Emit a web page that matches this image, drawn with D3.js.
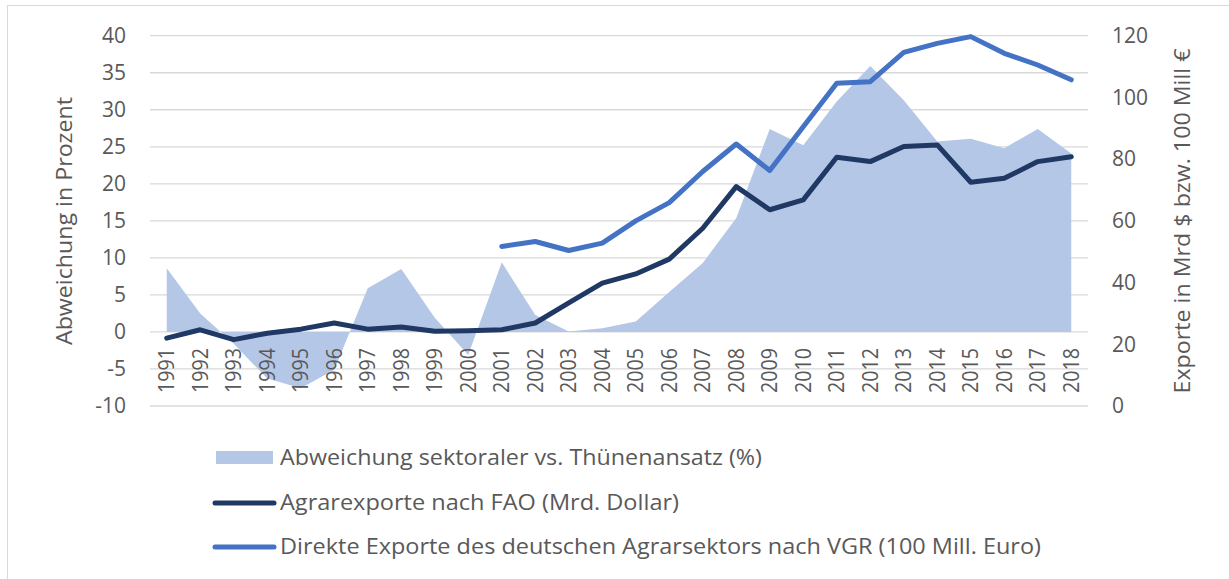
<!DOCTYPE html>
<html>
<head>
<meta charset="utf-8">
<script src="https://cdn.jsdelivr.net/npm/d3@7"></script>
<style>
  body { margin: 0; background: #fff; }
  text { font-family: "Open Sans", Lato, sans-serif; fill: #595959; }
</style>
</head>
<body>
<div id="chart"></div>
<script>
const width = 1229;
const height = 579;

// Daten
const years = d3.range(1991, 2019).map(String);
const abweichung = [8.6, 2.5, -1.6, -6.3, -7.6, -5.1, 5.9, 8.5, 1.9, -3.1, 9.4, 2.3, 0.05, 0.5, 1.4, 5.4, 9.3, 15.4, 27.4, 25.2, 31.1, 35.9, 31.3, 25.7, 26.1, 24.8, 27.4, 24.1];
const faoExporte = [22.0, 24.7, 21.5, 23.6, 24.9, 26.9, 24.9, 25.6, 24.2, 24.4, 24.7, 26.9, 33.4, 39.8, 42.8, 47.6, 57.6, 71.1, 63.6, 66.8, 80.6, 79.2, 84.1, 84.6, 72.5, 73.8, 79.2, 80.8];
const vgrExporte = [null, null, null, null, null, null, null, null, null, null, 51.7, 53.3, 50.4, 52.8, 60.0, 65.9, 76.0, 84.9, 76.3, 90.5, 104.6, 105.1, 114.6, 117.5, 119.7, 114.3, 110.5, 105.7];
const leftTicks = d3.range(-10, 41, 5);
const rightTicks = d3.range(0, 121, 20);
const legendLabels = [
  "Abweichung sektoraler vs. Thünenansatz (%)",
  "Agrarexporte nach FAO (Mrd. Dollar)",
  "Direkte Exporte des deutschen Agrarsektors nach VGR (100 Mill. Euro)"
];
const legendWidths = [482, 399, 761];

const svg = d3.select("#chart")
  .append("svg")
  .attr("width", width)
  .attr("height", height);

// Rahmen
svg.append("rect")
  .attr("x", 7.5).attr("y", 5.5)
  .attr("width", width).attr("height", height)
  .attr("fill", "none")
  .attr("stroke", "#d9d9d9");

const x = d3.scaleBand().domain(years).range([150, 1088]);
const yL = d3.scaleLinear().domain([-10, 40]).range([406, 35.7]);
const yR = d3.scaleLinear().domain([0, 120]).range([406, 35.7]);

// Gitterlinien
svg.append("g")
  .selectAll("line")
  .data(leftTicks)
  .join("line")
  .attr("x1", 150).attr("x2", 1088)
  .attr("y1", d => yL(d)).attr("y2", d => yL(d))
  .attr("stroke", "#d9d9d9")
  .attr("stroke-width", 1.3);

const cx = d => x(d) + x.bandwidth() / 2;

// Fläche
const area = d3.area()
  .x((d, i) => cx(years[i]))
  .y0(yL(0))
  .y1(d => yL(d));

svg.append("path")
  .datum(abweichung)
  .attr("fill", "#b4c7e7")
  .attr("d", area);

// Linien
const line = d3.line()
  .defined(d => d != null)
  .x((d, i) => cx(years[i]))
  .y(d => yR(d));

svg.append("path")
  .datum(faoExporte)
  .attr("fill", "none")
  .attr("stroke", "#203864")
  .attr("stroke-width", 5)
  .attr("stroke-linejoin", "round")
  .attr("stroke-linecap", "round")
  .attr("d", line);

svg.append("path")
  .datum(vgrExporte)
  .attr("fill", "none")
  .attr("stroke", "#4472c4")
  .attr("stroke-width", 5)
  .attr("stroke-linejoin", "round")
  .attr("stroke-linecap", "round")
  .attr("d", line);

// Achsen
const styleTicks = (sel, size) => sel
  .attr("font-size", size)
  .attr("font-family", "\"Open Sans\", sans-serif")
  .attr("fill", "#595959");

const axisLeft = d3.axisLeft(yL).tickValues(leftTicks).tickFormat(d => String(d)).tickSize(0).tickPadding(0);
svg.append("g")
  .attr("transform", "translate(126,0)")
  .call(axisLeft)
  .call(g => g.select(".domain").remove())
  .selectAll("text")
  .call(styleTicks, 21);

const axisRight = d3.axisRight(yR).tickValues(rightTicks).tickFormat(d => String(d)).tickSize(0).tickPadding(0);
svg.append("g")
  .attr("transform", "translate(1112,0)")
  .call(axisRight)
  .call(g => g.select(".domain").remove())
  .selectAll("text")
  .call(styleTicks, 21);

const axisBottom = d3.axisBottom(x).tickSize(0).tickPadding(0);
svg.append("g")
  .attr("transform", "translate(0,348)")
  .call(axisBottom)
  .call(g => g.select(".domain").remove())
  .selectAll("text")
  .call(styleTicks, 22)
  .attr("text-anchor", "end")
  .attr("dy", "0.35em")
  .attr("transform", "rotate(-90)")
  .attr("x", 0)
  .attr("y", 0)
  .attr("textLength", 45)
  .attr("lengthAdjust", "spacingAndGlyphs");

// Achsentitel
svg.append("text")
  .attr("transform", "translate(72,221) rotate(-90)")
  .attr("text-anchor", "middle")
  .attr("font-size", 21)
  .attr("textLength", 248)
  .attr("lengthAdjust", "spacingAndGlyphs")
  .text("Abweichung in Prozent");

svg.append("text")
  .attr("transform", "translate(1190,221) rotate(-90)")
  .attr("text-anchor", "middle")
  .attr("font-size", 21)
  .attr("textLength", 345)
  .attr("lengthAdjust", "spacingAndGlyphs")
  .text("Exporte in Mrd $ bzw. 100 Mill €");

// Legende
const legend = svg.append("g");
const legendY = [458, 503, 547];

legend.append("rect")
  .attr("x", 216).attr("y", legendY[0] - 7)
  .attr("width", 57).attr("height", 13)
  .attr("fill", "#b4c7e7");

[["#203864", 1], ["#4472c4", 2]].forEach(([c, i]) => {
  legend.append("line")
    .attr("x1", 215).attr("x2", 274)
    .attr("y1", legendY[i]).attr("y2", legendY[i])
    .attr("stroke", c)
    .attr("stroke-width", 5)
    .attr("stroke-linecap", "round");
});

legend.selectAll("text")
  .data(legendLabels)
  .join("text")
  .attr("x", 280)
  .attr("y", (d, i) => legendY[i])
  .attr("dy", "0.35em")
  .attr("font-size", 21)
  .attr("textLength", (d, i) => legendWidths[i])
  .attr("lengthAdjust", "spacingAndGlyphs")
  .text(d => d);
</script>
</body>
</html>
